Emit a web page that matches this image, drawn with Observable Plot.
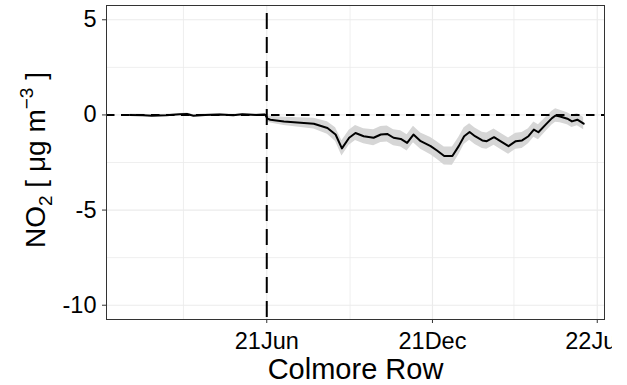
<!DOCTYPE html>
<html>
<head>
<meta charset="utf-8">
<script src="https://cdn.jsdelivr.net/npm/d3@7"></script>
<script src="https://cdn.jsdelivr.net/npm/@observablehq/plot@0.6"></script>
<style>
  html, body { margin: 0; padding: 0; background: #fff; }
  #chart { width: 627px; height: 385px; overflow: hidden; background: #fff; }
</style>
</head>
<body>
<div id="chart"></div>
<script>
// ---- data ----
const dates = [
  "2021-01-01","2021-01-15","2021-01-25","2021-02-10","2021-02-25","2021-03-05",
  "2021-03-12","2021-03-25","2021-04-10","2021-04-25","2021-05-05","2021-05-20",
  "2021-05-30","2021-06-02","2021-06-05","2021-06-20","2021-07-23","2021-08-07",
  "2021-08-16","2021-08-23","2021-08-31","2021-09-07","2021-09-16","2021-09-27",
  "2021-10-05","2021-10-12","2021-10-19","2021-10-27","2021-11-03","2021-11-10",
  "2021-11-18","2021-11-29","2021-12-06","2021-12-14","2021-12-23","2021-12-30",
  "2022-01-05","2022-01-11","2022-01-17","2022-01-25","2022-01-30","2022-02-07",
  "2022-02-14","2022-02-23","2022-03-03","2022-03-10","2022-03-17","2022-03-23",
  "2022-03-28","2022-04-05","2022-04-12","2022-04-16","2022-04-21","2022-04-29",
  "2022-05-04","2022-05-10","2022-05-17"
];
const no2Change = [
  0.00,-0.02,-0.04,-0.02,0.03,0.05,
  -0.04,0.00,0.02,-0.02,0.03,0.00,
  0.02,-0.20,-0.25,-0.34,-0.46,-0.69,
  -1.03,-1.76,-1.20,-0.95,-1.12,-1.20,
  -1.03,-1.00,-1.20,-1.26,-1.47,-1.03,
  -1.38,-1.64,-1.87,-2.16,-2.16,-1.64,
  -1.12,-0.90,-1.12,-1.34,-1.38,-1.17,
  -1.38,-1.64,-1.38,-1.34,-1.12,-0.77,
  -0.91,-0.51,-0.17,-0.03,-0.08,-0.20,
  -0.34,-0.25,-0.46
];
const ciHalf = [
  0.05,0.05,0.05,0.05,0.05,0.05,
  0.05,0.05,0.05,0.05,0.05,0.05,
  0.05,0.15,0.18,0.22,0.28,0.33,
  0.36,0.40,0.40,0.40,0.40,0.42,
  0.42,0.42,0.42,0.43,0.43,0.43,
  0.43,0.45,0.46,0.47,0.48,0.46,
  0.44,0.43,0.43,0.43,0.43,0.43,
  0.43,0.43,0.42,0.42,0.40,0.40,
  0.40,0.38,0.36,0.35,0.33,0.32,
  0.32,0.32,0.32
];
const interventionDate = "2021-06-01";
const xMajorTicks = ["2021-06-01","2021-12-01","2022-06-01"];
const xMinorTicks = ["2021-03-01","2021-09-01","2022-03-01"];
const yMajorTicks = [5, 0, -5, -10];
const yMinorTicks = [2.5, -2.5, -7.5];
const xLabel = "Colmore Row";

// ---- build table ----
const table = dates.map((d, i) => ({
  date: new Date(d),
  value: no2Change[i],
  lo: no2Change[i] - ciHalf[i],
  hi: no2Change[i] + ciHalf[i]
}));
const toDate = (s) => new Date(s);
const FONT = "'Liberation Sans', Arial, sans-serif";

const chart = Plot.plot({
  width: 612,
  height: 385,
  marginLeft: 106,
  marginRight: 8,
  marginTop: 5,
  marginBottom: 66,
  style: { fontFamily: FONT, background: "white" },
  x: { type: "utc", domain: [new Date("2020-12-06"), new Date("2022-06-09")] },
  y: { domain: [-10.75, 5.75] },
  marks: [
    Plot.gridX(xMinorTicks.map(toDate), { stroke: "#ebebeb", strokeOpacity: 1, strokeWidth: 0.8 }),
    Plot.gridX(xMajorTicks.map(toDate), { stroke: "#ebebeb", strokeOpacity: 1, strokeWidth: 1.2 }),
    Plot.gridY(yMinorTicks, { stroke: "#ebebeb", strokeOpacity: 1, strokeWidth: 0.8 }),
    Plot.gridY(yMajorTicks, { stroke: "#ebebeb", strokeOpacity: 1, strokeWidth: 1.2 }),
    Plot.areaY(table, { x: "date", y1: "lo", y2: "hi", fill: "#d6d6d6", curve: "linear" }),
    Plot.ruleY([0], { stroke: "black", strokeWidth: 2, strokeDasharray: "8.5,6.5" }),
    Plot.ruleX([toDate(interventionDate)], { stroke: "black", strokeWidth: 2, strokeDasharray: "16,8", strokeDashoffset: 16 }),
    Plot.lineY(table, { x: "date", y: "value", stroke: "black", strokeWidth: 2 }),
    Plot.frame({ stroke: "#333", strokeWidth: 1 }),
    Plot.axisX(xMajorTicks.map(toDate), {
      tickFormat: d3.utcFormat("%y%b"), tickSize: 4, tickPadding: 9,
      fontSize: 23.5, label: null, stroke: "#333", fill: "black"
    }),
    Plot.axisY(yMajorTicks, {
      tickFormat: (d) => `${d}`,
      tickSize: 4, tickPadding: 6, fontSize: 23.5, label: null, stroke: "#333", fill: "black"
    }),
    Plot.text([xLabel], { frameAnchor: "bottom", dy: 59, fontSize: 29, lineAnchor: "bottom", fill: "black" })
  ]
});

document.getElementById("chart").appendChild(chart);

// y-axis title with subscript / superscript
const svg = d3.select(chart);
const t = svg.append("text")
  .attr("transform", "translate(45,160) rotate(-90)")
  .attr("text-anchor", "middle")
  .attr("font-size", 28)
  .attr("font-family", FONT)
  .attr("fill", "black");
t.append("tspan").text("NO");
t.append("tspan").attr("font-size", 19).attr("dy", 7).text("2");
t.append("tspan").attr("dy", -7).text(" [ μg m");
t.append("tspan").attr("font-size", 19).attr("dy", -12).text("−3");
t.append("tspan").attr("dy", 12).text(" ]");
</script>
</body>
</html>
